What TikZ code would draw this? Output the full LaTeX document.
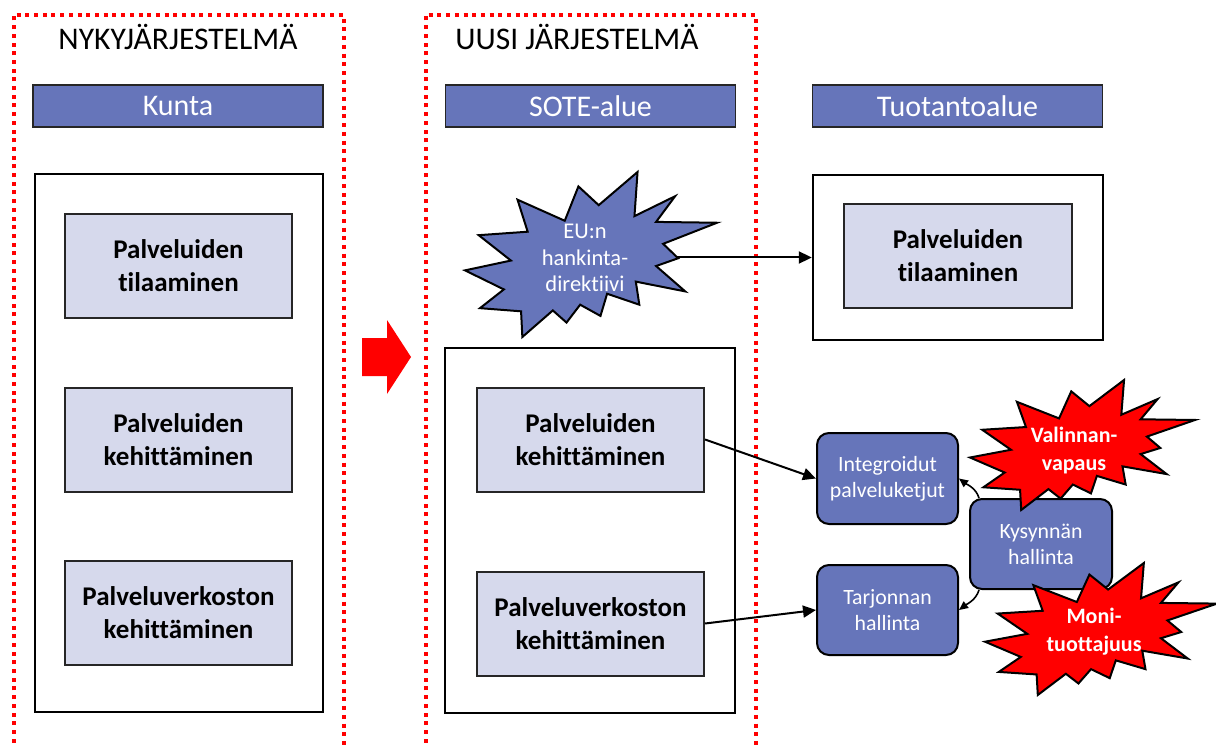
\documentclass[tikz,border=0pt]{standalone}
\usepackage{fontspec}
\setmainfont{Carlito}[Ligatures=NoCommon]
\usetikzlibrary{arrows.meta}

\definecolor{slate}{RGB}{102,117,186}
\definecolor{pale}{RGB}{214,217,236}

% irregular "explosion" outline in a unit box, y running downwards
\tikzset{
  pics/seal/.style={code={
    \path[pic actions] (0.5306,0.2010) -- (0.6847,0) -- (0.6725,0.2675) -- (0.8337,0.1469)
      -- (0.7583,0.3024) -- (1,0.3076) -- (0.7863,0.4353) -- (0.8458,0.5227)
      -- (0.7583,0.5699) -- (0.8739,0.7237) -- (0.6778,0.6644) -- (0.6918,0.8042)
      -- (0.5639,0.7377) -- (0.5376,0.8723) -- (0.4570,0.8042) -- (0.4028,0.9126)
      -- (0.3485,0.8391) -- (0.2276,1) -- (0.2225,0.8444) -- (0.0595,0.8252)
      -- (0.1542,0.7116) -- (0,0.5962) -- (0.1822,0.5367) -- (0.0543,0.3829)
      -- (0.2487,0.3619) -- (0.2084,0.1678) -- (0.3958,0.2955) -- (0.4501,0.0874) -- cycle;
  }}
}

\begin{document}
\begin{tikzpicture}[x=1pt,y=-1pt,
  frame/.style={draw=red, line width=4pt, dash pattern=on 4pt off 4.7pt, line join=miter},
  title/.style={anchor=base, font=\fontsize{31.5}{33}\selectfont},
  header/.style={draw=black!85, line width=1.6pt, fill=slate, text=white,
    font=\fontsize{30}{32}\selectfont, minimum width=290pt, minimum height=42pt, inner sep=0pt},
  panel/.style={draw=black, line width=2.4pt, fill=white, inner sep=0pt},
  task/.style={draw=black!85, line width=2pt, fill=pale, align=center,
    font=\bfseries\fontsize{27}{33}\selectfont,
    minimum width=227pt, minimum height=104pt, inner sep=0pt},
  flow/.style={draw=black, line width=2pt, rounded corners=12pt, fill=slate, text=white,
    align=center, font=\fontsize{21.8}{26}\selectfont,
    minimum width=141pt, minimum height=91pt, inner sep=0pt},
  sealtext/.style={text=white, align=center, inner sep=0pt},
  link/.style={draw=black, line width=2pt, -{Triangle[length=13pt,width=12pt]}},
  bendlink/.style={draw=black, line width=1.6pt, -{Triangle[length=9pt,width=8pt]}},
]
\useasboundingbox (0,0) rectangle (1216,746);
\clip (0,0) rectangle (1216,746);

% dotted frames of the two systems
\draw[frame] (13.5,760) -- (13.5,15) -- (343.5,15) -- (343.5,760);
\draw[frame] (425.5,760) -- (425.5,15) -- (755.5,15) -- (755.5,760);

\node[title] (tNow) at (178,50) {NYKYJÄRJESTELMÄ};
\node[title] (tNew) at (577,50) {UUSI JÄRJESTELMÄ};

% column headers
\node[header] (hKunta) at (178,106) {Kunta};
\node[header] (hSote) at (590.5,106) {SOTE-alue};
\node[header] (hTuo) at (957.5,106) {Tuotantoalue};

% municipality column
\node[panel, minimum width=288pt, minimum height=538pt] (pKunta) at (179,443) {};
\node[task] (k1) at (178.5,266) {Palveluiden\\tilaaminen};
\node[task] (k2) at (178.5,439.5) {Palveluiden\\kehittäminen};
\node[task] (k3) at (178.5,612.5) {Palveluverkoston\\kehittäminen};

% transition arrow
\fill[red] (362,338) -- (387,338) -- (387,320) -- (411,357) -- (387,394) -- (387,376) -- (362,376) -- cycle;

% SOTE column
\node[panel, minimum width=290pt, minimum height=365pt] (pSote) at (590,530.5) {};
\node[task] (s1) at (590.5,439.5) {Palveluiden\\kehittäminen};
\node[task] (s2) at (590.5,623.5) {Palveluverkoston\\kehittäminen};

% production area
\node[panel, minimum width=290pt, minimum height=165pt] (pTuo) at (958,257.5) {};
\node[task, minimum width=228pt] (t1) at (958,256) {Palveluiden\\tilaaminen};

% procurement directive
\pic[draw=black, line width=2pt, fill=slate, line join=miter, xscale=252, yscale=165] at (465,172) {seal};
\node[sealtext, font=\fontsize{22.5}{26.5}\selectfont] (eu) at (585,258) {EU:n\\hankinta-\\direktiivi};
\coordinate (euR) at (676,257.5);
\draw[link] (euR) -- (pTuo.west);

% service chain management
\node[flow] (int) at (887.5,478.5) {Integroidut\\palveluketjut};
\node[flow, minimum height=90pt] (tar) at (887.5,610) {Tarjonnan\\hallinta};
\node[flow, minimum width=142pt, minimum height=90pt] (kys) at (1041,544) {Kysynnän\\hallinta};

\draw[link] (s1.east) -- (int.west);
\draw[link] (s2.east) -- (tar.west);
\draw[bendlink] ([xshift=10pt]kys.north west) .. controls +(-3,-10) and +(8,6) .. (int.east);
\draw[bendlink] ([xshift=10pt]kys.south west) .. controls +(-3,10) and +(8,-6) .. (tar.east);

% red bursts
\pic[draw=black, line width=2pt, fill=red, line join=miter, xscale=225, yscale=130] at (970,380) {seal};
\node[sealtext, font=\bfseries\fontsize{22}{27.5}\selectfont] (val) at (1074,450.5) {Valinnan-\\vapaus};
\pic[draw=black, line width=2pt, fill=red, line join=miter, xscale=232, yscale=132] at (985,563) {seal};
\node[sealtext, font=\bfseries\fontsize{22}{27.5}\selectfont] (moni) at (1094,631.5) {Moni-\\tuottajuus};
\end{tikzpicture}
\end{document}
